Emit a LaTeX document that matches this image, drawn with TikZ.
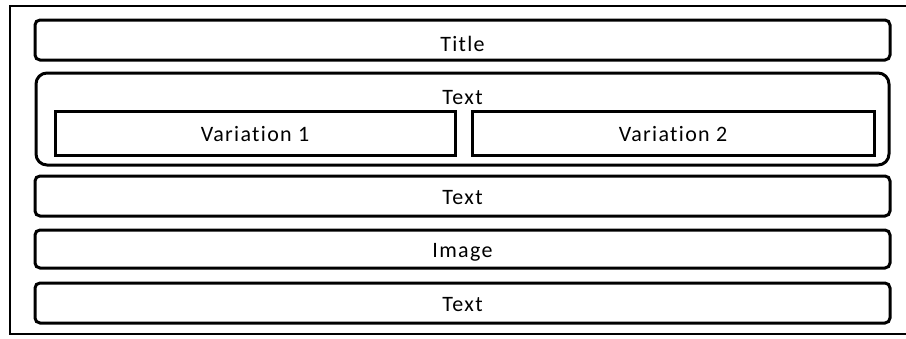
\documentclass[tikz,border=0pt]{standalone}
\usepackage{fontspec}
\setmainfont{Carlito}[RawFeature=-liga,LetterSpace=6]
\begin{document}
\begin{tikzpicture}[x=1pt,y=-1pt,
  row/.style={draw=black,line width=3pt,rounded corners=5pt},
  cont/.style={draw=black,line width=3pt,rounded corners=11pt},
  varbox/.style={draw=black,line width=3pt},
  lbl/.style={font=\fontsize{22}{24}\selectfont,inner sep=0pt,anchor=base},
  frame/.style={draw=black,line width=1.8pt}]
\useasboundingbox (0,0) rectangle (906,338);
\fill[white] (0,0) rectangle (906,338);
% outer frame
\coordinate (ftr) at (910,6);
\coordinate (ftl) at (10,6);
\coordinate (fbl) at (10,334);
\coordinate (fbr) at (910,334);
\draw[frame] (ftr) -- (ftl) -- (fbl) -- (fbr);
% title
\draw[row] (35,20) rectangle (890,60);
\node[lbl] (title) at (462.5,51) {Title};
% container
\draw[cont] (36,73) rectangle (889,165);
\node[lbl] (text1) at (462.5,104) {Text};
\draw[varbox] (55,111) rectangle (455,155);
\node[lbl] (var1) at (255,141) {Variation 1};
\draw[varbox] (472,111) rectangle (874,155);
\node[lbl] (var2) at (673,141) {Variation 2};
% rows
\draw[row] (35,176) rectangle (890,216);
\node[lbl] (text2) at (462.5,204) {Text};
\draw[row] (35,230) rectangle (890,268);
\node[lbl] (image) at (462.5,257) {Image};
\draw[row] (35,283) rectangle (890,323);
\node[lbl] (text3) at (462.5,311) {Text};
\end{tikzpicture}
\end{document}
